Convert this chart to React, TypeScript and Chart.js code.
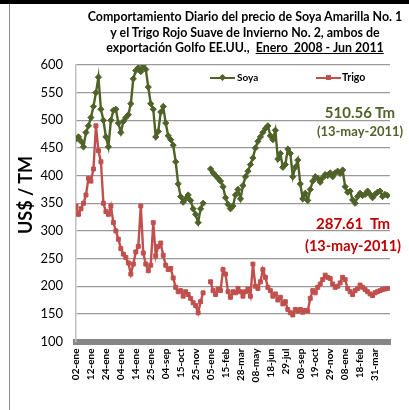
import React, { useEffect, useRef } from "react";
import { Chart, registerables } from "chart.js";

Chart.register(...registerables);

const titleLines = [
  "Comportamiento Diario del precio de Soya Amarilla No. 1",
  "y el Trigo Rojo Suave de Invierno No. 2, ambos de",
];
const titleLine3a = "exportación Golfo EE.UU.,  ";
const titleLine3b = "Enero  2008 - Jun 2011";

const tickLabels = [
  "02-ene", "12-ene", "24-ene", "04-ene", "14-ene", "25-ene", "04-sep", "15-oct",
  "25-nov", "05-ene", "15-feb", "28-mar", "08-may", "18-jun", "29-jul", "08-sep",
  "19-oct", "29-nov", "08-ene", "18-feb", "31-mar",
];
const POINTS_PER_LABEL = 6;

const soya: (number | null)[] = [
  466, 470, 462, 452, 478, 490, 505, 525, 550, 578,
  520, 500, 470, 452, 500, 518, 520, 495, 478, 498,
  505, 510, 530, 575, 590, 595, 588, 600, 592, 560,
  530, 520, 470, 480, 515, 525, 495, 472, 465, 455,
  425, 385, 362, 352, 358, 365, 355, 340, 330, 315,
  340, 350, null, null, 412, 405, 400, 395, 390, 380,
  360, 348, 340, 345, 365, 375, 358, 382, 398, 408,
  420, 432, 450, 462, 470, 478, 485, 490, 472, 465,
  482, 430, 440, 415, 420, 448, 440, 398, 415, 428,
  385, 358, 368, 355, 375, 390, 398, 395, 388, 396,
  402, 400, 405, 398, 405, 408, 404, 410, 380, 370,
  372, 356, 350, 362, 368, 364, 366, 372, 366, 360,
  366, 370, 372, 362, 366, 364,
];

const trigo: (number | null)[] = [
  345, 330, 340, 350, 365, 395, 390, 412, 490, 445,
  425, 350, 335, 330, 345, 315, 300, 285, 268, 258,
  252, 242, 222, 240, 262, 272, 345, 260, 240, 228,
  238, 315, 255, 272, 278, 256, 238, 230, 232, 215,
  198, 190, 192, 182, 190, 185, 178, 170, 165, 152,
  172, 188, null, null, 208, 192, 185, 195, 192, 230,
  222, 190, 180, 190, 188, 196, 190, 182, 190, 195,
  182, 240, 200, 196, 208, 230, 216, 198, 192, 182,
  186, 175, 180, 168, 172, 158, 152, 148, 158, 155,
  158, 153, 156, 155, 178, 192, 188, 198, 204, 212,
  220, 216, 214, 204, 198, 200, 206, 216, 212, 196,
  190, 185, 192, 196, 202, 198, 194, 190, 186, 183,
  188, 190, 192, 194, 195, 196,
];

const soyaLabel = "Soya";
const trigoLabel = "Trigo";
const soyaNote = ["510.56 Tm", "(13-may-2011)"];
const trigoNote = ["287.61  Tm", "(13-may-2011)"];
const yTitle = "US$ / TM";

const GREEN = "#4F6228";
const RED = "#C0504D";
const FONT = "Lato, 'Open Sans', sans-serif";

export default function App() {
  const ref = useRef<HTMLCanvasElement | null>(null);

  useEffect(() => {
    if (!ref.current) return;
    const chart = new Chart(ref.current, {
      type: "line",
      data: {
        datasets: [
          {
            label: soyaLabel,
            data: soya.map((v, i) => ({ x: i, y: v })) as any,
            borderColor: GREEN,
            backgroundColor: GREEN,
            pointStyle: "rectRot",
            pointRadius: 3.1,
            pointBorderWidth: 1,
            borderWidth: 2.4,
            spanGaps: false,
          },
          {
            label: trigoLabel,
            data: trigo.map((v, i) => ({ x: i, y: v })) as any,
            borderColor: RED,
            backgroundColor: RED,
            pointStyle: "rect",
            pointRadius: 2.8,
            pointBorderWidth: 1,
            borderWidth: 2.4,
            spanGaps: false,
          },
        ],
      },
      options: {
        animation: false,
        responsive: true,
        maintainAspectRatio: false,
        layout: { padding: { top: 65, right: 2, left: 0, bottom: 0 } },
        plugins: { legend: { display: false }, tooltip: { enabled: false }, title: { display: false } },
        scales: {
          x: {
            type: "linear",
            min: 0,
            max: 126,
            afterFit: (s: any) => {
              s.height = 68.5;
            },
            grid: { display: false, drawTicks: false },
            border: { display: true, color: "#868686", width: 6 },
            ticks: {
              stepSize: POINTS_PER_LABEL,
              autoSkip: false,
              minRotation: 90,
              maxRotation: 90,
              padding: 7,
              color: "#000",
              font: { family: FONT, weight: "bold", size: 10 },
              callback: (v: any) => {
                const idx = Number(v) / POINTS_PER_LABEL;
                return Number.isInteger(idx) && tickLabels[idx] ? tickLabels[idx] : "";
              },
            },
          },
          y: {
            min: 100,
            max: 600,
            afterFit: (s: any) => {
              s.width = 76;
            },
            grid: { color: "#9a9a9a", lineWidth: 1.3, drawTicks: false },
            border: { color: "#bfbfbf", width: 1.5 },
            ticks: {
              stepSize: 50,
              padding: 13,
              color: "#000",
              font: { family: FONT, size: 13 },
            },
          },
        },
      },
    });
    return () => chart.destroy();
  }, []);

  const abs = (o: React.CSSProperties): React.CSSProperties => ({
    position: "absolute",
    pointerEvents: "none",
    fontFamily: FONT,
    whiteSpace: "pre",
    ...o,
  });

  return (
    <div style={{ position: "fixed", left: 0, top: 0, width: 409, height: 410, background: "#fff", overflow: "hidden" }}>
      <div style={{ position: "absolute", left: 0, top: 0, width: 409, height: 410 }}>
        <canvas ref={ref} />
      </div>
      <div style={abs({ left: 0, top: 0, width: 409, height: 4, background: "#000" })} />
      <div style={abs({ left: 9, top: 4, width: 1, height: 406, background: "#8c8c8c" })} />
      <div
        style={abs({
          left: 80,
          top: 9,
          width: 330,
          textAlign: "center",
          fontWeight: "bold",
          fontSize: 12.4,
          lineHeight: "15.5px",
          color: "#000",
        })}
      >
        <div>{titleLines[0]}</div>
        <div>{titleLines[1]}</div>
        <div>
          {titleLine3a}
          <span style={{ textDecoration: "underline" }}>{titleLine3b}</span>
        </div>
      </div>
      <div
        style={abs({
          left: 25 - 60,
          top: 195 - 12,
          width: 120,
          height: 24,
          lineHeight: "24px",
          textAlign: "center",
          fontWeight: "bold",
          fontSize: 18,
          color: "#000",
          transform: "rotate(-90deg)",
        })}
      >
        {yTitle}
      </div>
      {/* legend */}
      <div style={abs({ left: 210, top: 76.5, width: 25, height: 2, background: GREEN })} />
      <div style={abs({ left: 220, top: 75, width: 5, height: 5, background: GREEN, transform: "rotate(45deg)" })} />
      <div style={abs({ left: 237, top: 71, fontSize: 10, lineHeight: "13px", fontWeight: "bold", color: "#000" })}>{soyaLabel}</div>
      <div style={abs({ left: 316, top: 76.5, width: 25, height: 2, background: RED })} />
      <div style={abs({ left: 326, top: 75, width: 5, height: 5, background: RED })} />
      <div style={abs({ left: 342, top: 71, fontSize: 10.5, lineHeight: "13px", fontWeight: "bold", color: "#000" })}>{trigoLabel}</div>
      {/* notes */}
      <div style={abs({ left: 300, top: 103, width: 120, textAlign: "center", fontSize: 15, lineHeight: "18px", fontWeight: "bold", color: GREEN })}>{soyaNote[0]}</div>
      <div style={abs({ left: 300, top: 123, width: 120, textAlign: "center", fontSize: 13, lineHeight: "16px", fontWeight: "bold", color: GREEN })}>{soyaNote[1]}</div>
      <div style={abs({ left: 293, top: 214, width: 120, textAlign: "center", fontSize: 15, lineHeight: "18px", fontWeight: "bold", color: "#C00000" })}>{trigoNote[0]}</div>
      <div style={abs({ left: 293, top: 236.5, width: 120, textAlign: "center", fontSize: 14.5, lineHeight: "17px", fontWeight: "bold", color: "#C00000" })}>{trigoNote[1]}</div>
    </div>
  );
}
